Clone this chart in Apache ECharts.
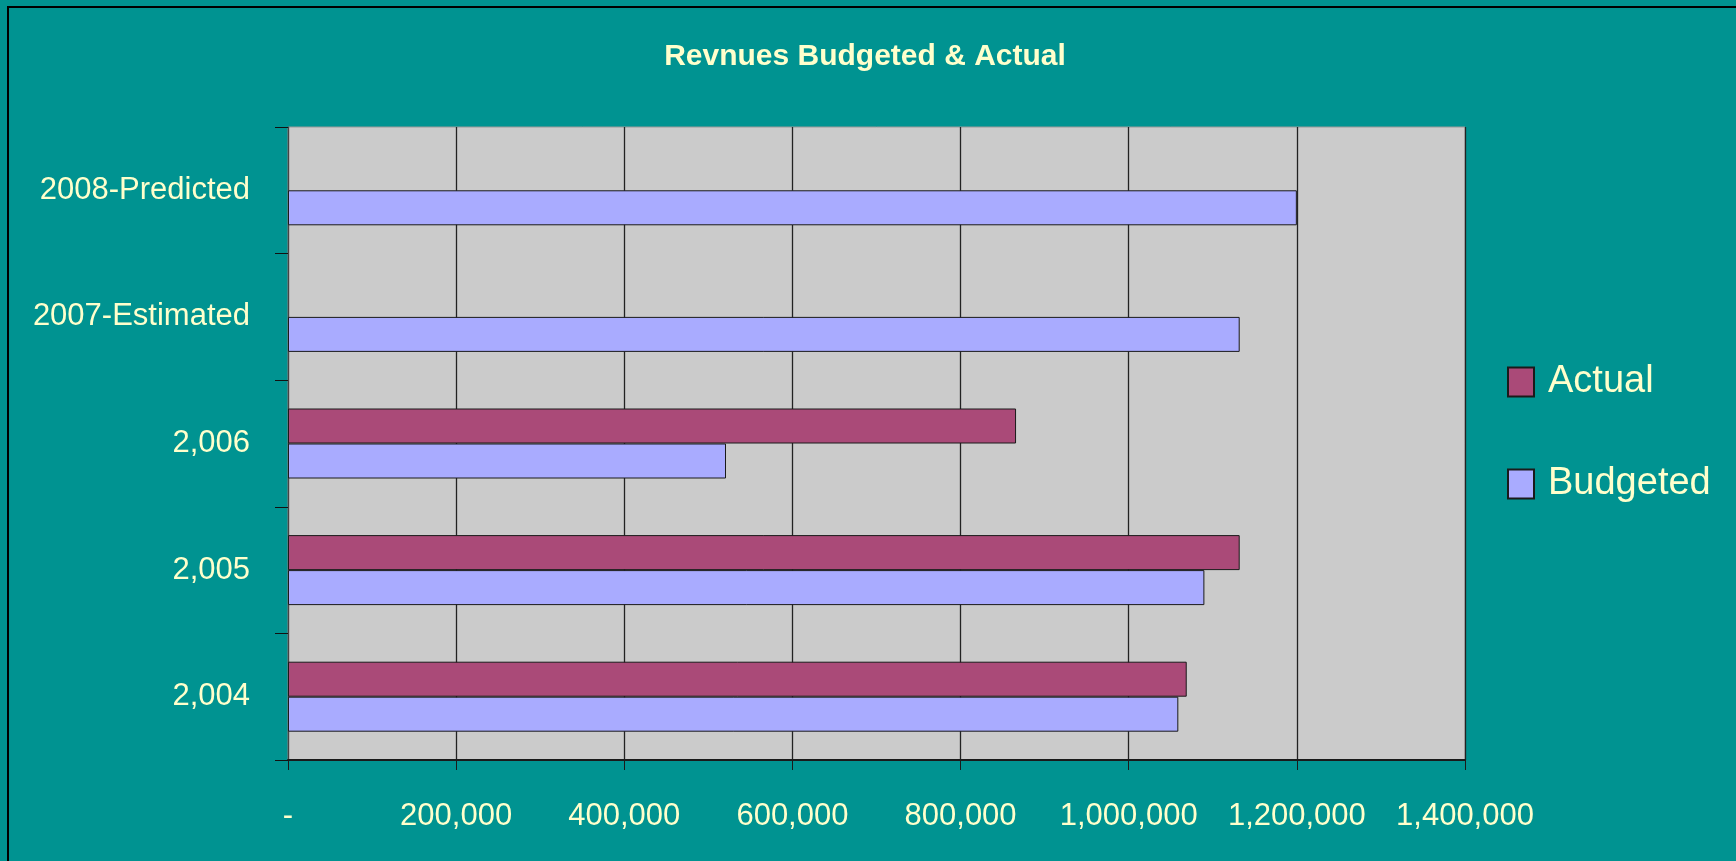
<!DOCTYPE html>
<html>
<head>
<meta charset="utf-8">
<script src="https://cdn.jsdelivr.net/npm/echarts@6/dist/echarts.min.js"></script>
<style>
  html, body { margin: 0; padding: 0; background: #009391; }
  #chart { width: 1736px; height: 861px; }
</style>
</head>
<body>
<div id="chart"></div>
<script>
// data
const categories = ['2,004', '2,005', '2,006', '2007-Estimated', '2008-Predicted']
const actual = [1069000, 1132000, 866000, null, null]
const budgeted = [1059000, 1090000, 521000, 1132000, 1200000]
const seriesNames = ['Actual', 'Budgeted']

const cream = '#FFFFCC'
const font = '"Liberation Sans", Arial, sans-serif'

function fmt(v) {
	if (v === 0) return '-'
	return v.toLocaleString('en-US')
}

const chart = echarts.init(document.getElementById('chart'))

chart.setOption({
	animation: false,
	backgroundColor: '#009391',
	textStyle: { fontFamily: font },
	title: {
		text: 'Revnues Budgeted & Actual',
		left: 860,
		top: 37,
		textAlign: 'center',
		textStyle: {
			color: cream,
			fontSize: 30,
			fontWeight: 'bold',
			fontFamily: font,
		},
	},
	// outer chart border (top + left visible)
	graphic: [
		{
			type: 'rect',
			shape: { x: 8, y: 7, width: 2000, height: 2000 },
			style: { fill: 'none', stroke: '#000', lineWidth: 2 },
			silent: true,
		},
	],
	legend: {
		orient: 'vertical',
		left: 1507,
		top: 362,
		padding: 0,
		icon: 'rect',
		itemWidth: 26,
		itemHeight: 29,
		itemGap: 62,
		data: seriesNames,
		textStyle: {
			color: cream,
			fontSize: 38,
			lineHeight: 40,
			padding: [0, 0, 0, 9],
			fontFamily: font,
		},
	},
	grid: {
		left: 288,
		top: 127,
		right: 271,
		bottom: 101,
		show: true,
		backgroundColor: '#CBCBCB',
		borderColor: '#9a9a9a',
		borderWidth: 1,
	},
	xAxis: {
		type: 'value',
		min: 0,
		max: 1400000,
		interval: 200000,
		axisLine: { show: true, lineStyle: { color: '#1a1a1a', width: 2 } },
		axisTick: { show: true, length: 10, lineStyle: { color: '#1a1a1a' } },
		splitLine: { show: true, lineStyle: { color: '#222', width: 1.3 } },
		axisLabel: {
			color: cream,
			fontSize: 31,
			lineHeight: 31,
			margin: 41,
			fontFamily: font,
			formatter: fmt,
		},
	},
	yAxis: {
		type: 'category',
		data: categories,
		axisLine: { show: true, lineStyle: { color: '#444', width: 1 } },
		axisTick: { show: true, length: 13, lineStyle: { color: '#111' } },
		axisLabel: {
			color: cream,
			fontSize: 31,
			margin: 38,
			fontFamily: font,
		},
	},
	series: [
		{
			name: seriesNames[0],
			type: 'bar',
			data: actual,
			barWidth: 35,
			barGap: '0%',
			itemStyle: { color: '#AA4A78', borderColor: '#1a1a1a', borderWidth: 1 },
		},
		{
			name: seriesNames[1],
			type: 'bar',
			data: budgeted,
			barWidth: 35,
			barGap: '0%',
			itemStyle: { color: '#A9ABFF', borderColor: '#1a1a1a', borderWidth: 1 },
		},
	],
})
</script>
</body>
</html>
